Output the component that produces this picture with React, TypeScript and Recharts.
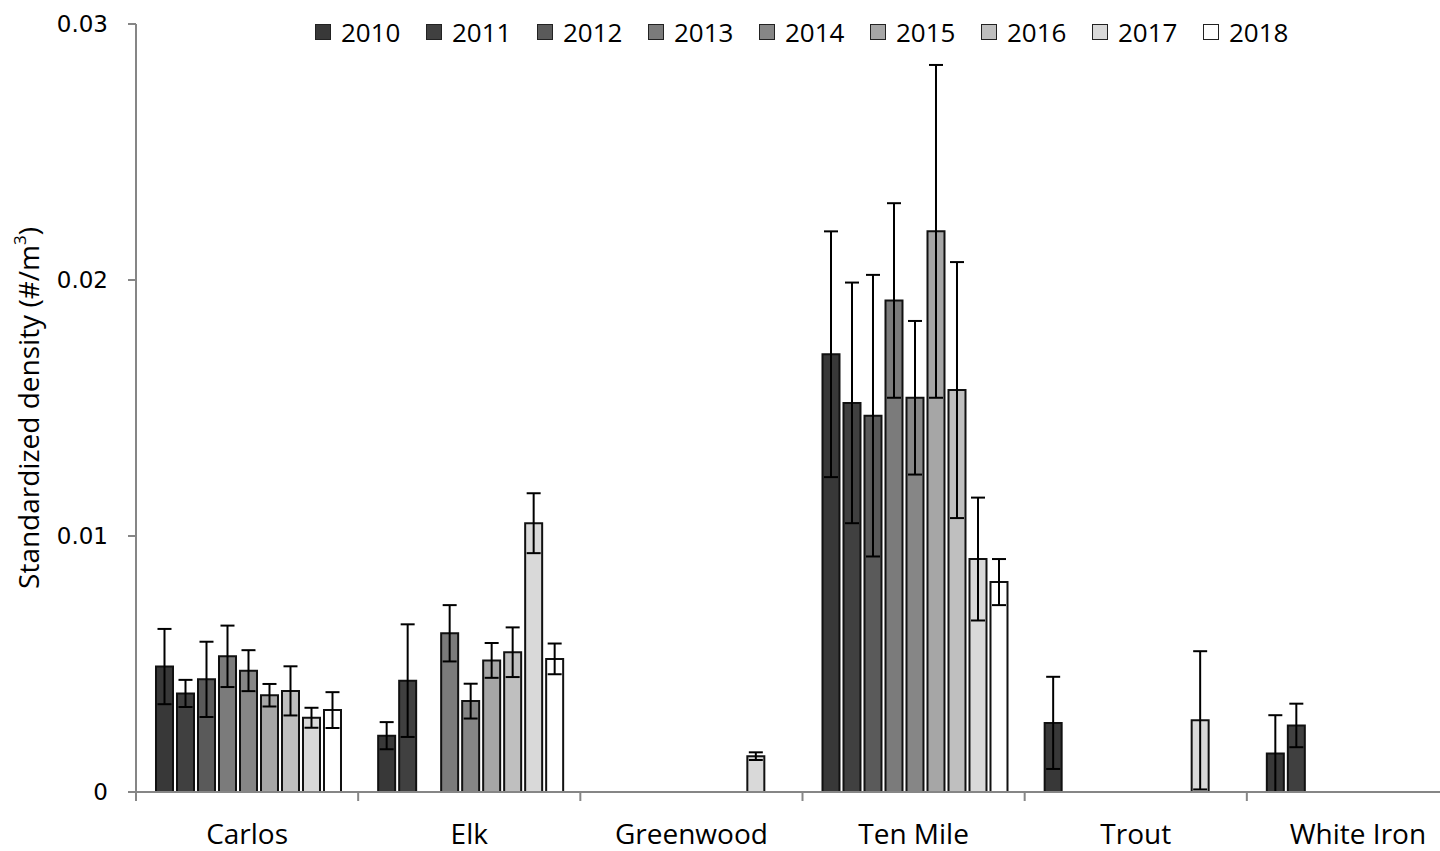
import React from 'react';
import { BarChart, Bar, XAxis, YAxis, ErrorBar, Legend } from 'recharts';

const categories = ['Carlos', 'Elk', 'Greenwood', 'Ten Mile', 'Trout', 'White Iron'];
const years = ['2010', '2011', '2012', '2013', '2014', '2015', '2016', '2017', '2018'];
const colors = ['#383838', '#404040', '#5a5a5a', '#7b7b7b', '#868686', '#a6a6a6', '#bfbfbf', '#d9d9d9', '#ffffff'];

// mean standardized density per site (order of categories)
const mean2010 = [0.0049, 0.0022, null, 0.0171, 0.0027, 0.0015];
const mean2011 = [0.00385, 0.00435, null, 0.0152, null, 0.0026];
const mean2012 = [0.0044, null, null, 0.0147, null, null];
const mean2013 = [0.0053, 0.0062, null, 0.0192, null, null];
const mean2014 = [0.00474, 0.00355, null, 0.0154, null, null];
const mean2015 = [0.00378, 0.00514, null, 0.0219, null, null];
const mean2016 = [0.00395, 0.00546, null, 0.0157, null, null];
const mean2017 = [0.0029, 0.0105, 0.0014, 0.0091, 0.0028, null];
const mean2018 = [0.0032, 0.0052, null, 0.0082, null, null];

// error (± value) per site
const err2010 = [0.00147, 0.00053, null, 0.0048, 0.0018, 0.0015];
const err2011 = [0.00053, 0.0022, null, 0.0047, null, 0.00085];
const err2012 = [0.00147, null, null, 0.0055, null, null];
const err2013 = [0.0012, 0.0011, null, 0.0038, null, null];
const err2014 = [0.0008, 0.00068, null, 0.003, null, null];
const err2015 = [0.00044, 0.00068, null, 0.0065, null, null];
const err2016 = [0.00096, 0.00097, null, 0.005, null, null];
const err2017 = [0.00039, 0.00117, 0.00015, 0.0024, 0.0027, null];
const err2018 = [0.0007, 0.0006, null, 0.0009, null, null];

const yTicks = [0, 0.01, 0.02, 0.03];

const means = [mean2010, mean2011, mean2012, mean2013, mean2014, mean2015, mean2016, mean2017, mean2018];
const errs = [err2010, err2011, err2012, err2013, err2014, err2015, err2016, err2017, err2018];

const data = categories.map((site, i) => {
  const row: any = { site };
  years.forEach((y, j) => {
    row['m' + y] = means[j][i];
    row['e' + y] = errs[j][i];
  });
  return row;
});

const AXIS = '#868686';
const TICK_MARGIN = 32;
const TICK_LEN = 9;

const renderCatTick = (props: any) => {
  const { x, y, payload, index, visibleTicksCount } = props;
  const off = payload && payload.offset != null ? payload.offset : 0;
  const ay = y - TICK_MARGIN;
  return (
    <g>
      {off ? (
        <line x1={x - off} x2={x - off} y1={ay} y2={ay + TICK_LEN} stroke={AXIS} strokeWidth={2} />
      ) : null}
      {off && index === visibleTicksCount - 1 ? (
        <line x1={x + off} x2={x + off} y1={ay} y2={ay + TICK_LEN} stroke={AXIS} strokeWidth={2} />
      ) : null}
      <text x={x} y={y} dy="0.71em" textAnchor="middle" fontSize={28} fontFamily="Open Sans" fill="#000">
        {payload.value}
      </text>
    </g>
  );
};

const renderYLabel = (props: any) => {
  const vb = props.viewBox || { y: 24, height: 768 };
  const cx = 28;
  const cy = vb.y + vb.height / 2;
  return (
    <text
      x={cx}
      y={cy}
      transform={`rotate(-90, ${cx}, ${cy})`}
      textAnchor="middle"
      dominantBaseline="central"
      fontSize={28}
      fontFamily="Open Sans"
      fill="#000"
    >
      Standardized density (#/m<tspan dy={-9} fontSize={17}>3</tspan><tspan dy={9}>)</tspan>
    </text>
  );
};

const renderLegend = () => (
  <div style={{ display: 'flex', alignItems: 'center', whiteSpace: 'nowrap' }}>
    {years.map((y, j) => (
      <div key={y} style={{ display: 'flex', alignItems: 'center', width: 111, height: 30 }}>
        <div
          style={{
            width: 16,
            height: 16,
            boxSizing: 'border-box',
            border: '1.5px solid #222',
            background: colors[j],
            marginRight: 10,
          }}
        />
        <span style={{ fontFamily: 'Open Sans', fontSize: 26, lineHeight: '30px', color: '#000' }}>{y}</span>
      </div>
    ))}
  </div>
);

export default function App() {
  return (
    <div
      style={{
        position: 'absolute',
        left: 0,
        top: 0,
        width: 1440,
        height: 851,
        overflow: 'hidden',
        background: '#fff',
      }}
    >
      <BarChart
        width={1480}
        height={851}
        data={data}
        margin={{ top: 24, right: 11, bottom: 0, left: 0 }}
        barCategoryGap="9%"
        barGap={4}
      >
        <XAxis
          xAxisId="cat"
          dataKey="site"
          height={59}
          interval={0}
          tickLine={false}
          tickSize={0}
          tickMargin={TICK_MARGIN}
          axisLine={{ stroke: AXIS, strokeWidth: 2 }}
          tick={renderCatTick}
        />
        <YAxis
          width={136}
          domain={[0, 0.03]}
          ticks={yTicks}
          interval={0}
          tickFormatter={(v: number) => (v === 0 ? '0' : String(v))}
          tickSize={8}
          tickMargin={20}
          tickLine={{ stroke: AXIS, strokeWidth: 2 }}
          axisLine={{ stroke: AXIS, strokeWidth: 2 }}
          tick={{ fontSize: 23, fill: '#000', fontFamily: 'DejaVu Sans' }}
          label={renderYLabel}
        />
        <Legend
          layout="vertical"
          verticalAlign="middle"
          align="center"
          wrapperStyle={{ top: 17, left: 315, width: 1010 }}
          content={renderLegend}
        />
        {years.map((y, j) => (
          <Bar
            key={y}
            xAxisId="cat"
            dataKey={'m' + y}
            name={y}
            fill={colors[j]}
            stroke="#111"
            strokeWidth={2}
            isAnimationActive={false}
          >
            <ErrorBar dataKey={'e' + y} width={7} stroke="#000" strokeWidth={2} />
          </Bar>
        ))}
      </BarChart>
    </div>
  );
}
